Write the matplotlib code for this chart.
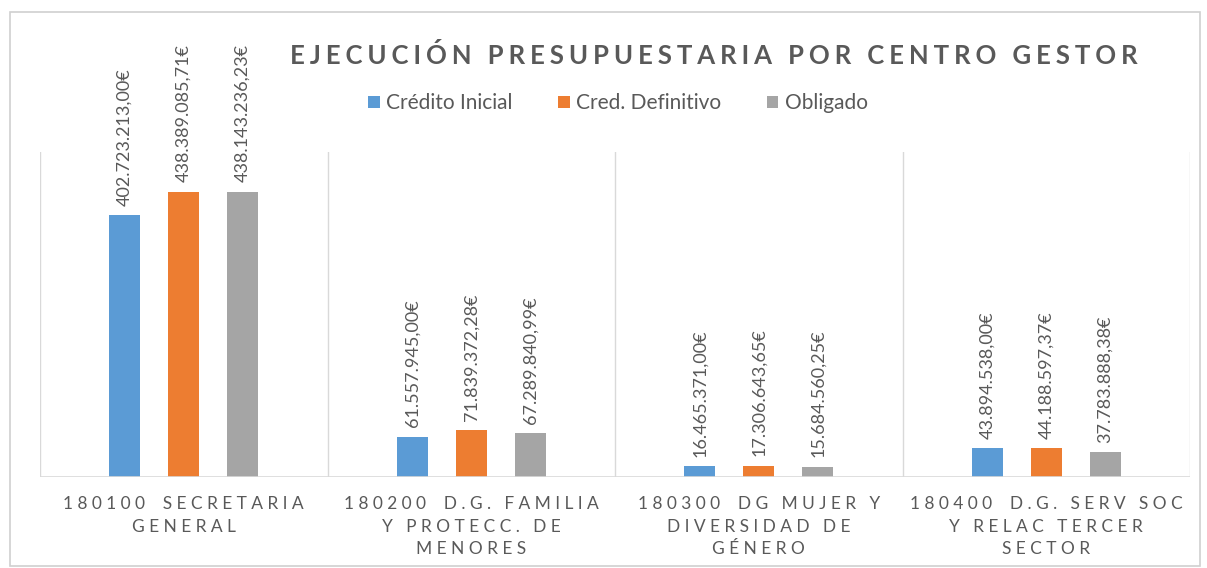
import matplotlib.pyplot as plt
import numpy as np
from matplotlib.patches import Rectangle

plt.rcParams['font.family'] = ['Lato', 'DejaVu Sans']

categories = ['180100  SECRETARIA\nGENERAL',
              '180200  D.G. FAMILIA\nY PROTECC. DE\nMENORES',
              '180300  DG MUJER Y\nDIVERSIDAD DE\nGÉNERO',
              '180400  D.G. SERV SOC\nY RELAC TERCER\nSECTOR']
series = ['Crédito Inicial', 'Cred. Definitivo', 'Obligado']
credito_inicial = [402723213.00, 61557945.00, 16465371.00, 43894538.00]
cred_definitivo = [438389085.71, 71839372.28, 17306643.65, 44188597.37]
obligado = [438143236.23, 67289840.99, 15684560.25, 37783888.38]
colors = ['#5B9BD5', '#ED7D31', '#A5A5A5']
text_col = '#595959'


def spaced(s, sep='\u2009'):
    # fake letter spacing, line by line (no extra gap between two blanks)
    out = []
    for line in s.split('\n'):
        t = ''
        for i, ch in enumerate(line):
            t += ch
            if i < len(line) - 1 and not (ch == ' ' and line[i + 1] == ' '):
                t += sep
        out.append(t)
    return '\n'.join(out)


def euro(v):
    s = f'{v:,.2f}'
    s = s.replace(',', 'X').replace('.', ',').replace('X', '.')
    return s + '€'


fig = plt.figure(figsize=(12.07, 5.68), dpi=100)
fig.patches.append(Rectangle((10/1207, 2/568), 1190/1207, 554/568,
                             transform=fig.transFigure, fill=False,
                             edgecolor='#D0D0D0', lw=1.2))
ax = fig.add_axes([40/1207, (568-477)/568, 1150/1207, 325/568])

x = np.arange(len(categories))
offsets = [-0.205, 0, 0.205]
width = 0.108
for vals, off, col, name in zip([credito_inicial, cred_definitivo, obligado],
                                offsets, colors, series):
    bars = ax.bar(x + off, vals, width, color=col, label=name, zorder=3)
    for b, v in zip(bars, vals):
        ax.annotate(euro(v), (b.get_x() + b.get_width()/2, b.get_height()),
                    xytext=(0, 7), textcoords='offset points',
                    rotation=90, ha='center', va='bottom',
                    fontsize=13, color=text_col)

ax.set_xlim(-0.5, 3.5)
ax.set_ylim(0, 500e6)
for b in np.arange(-0.5, 4.0, 1.0):
    ax.axvline(b, color='#D9D9D9', lw=1, zorder=1)
for s in ax.spines.values():
    s.set_visible(False)
ax.axhline(0, color='#D9D9D9', lw=1.2, zorder=4)
ax.set_yticks([])
ax.set_xticks(x)
ax.set_xticklabels([spaced(c, '\u2009\u200a\u200a') for c in categories],
                   fontsize=12.5, color=text_col, linespacing=1.5)
ax.tick_params(axis='x', length=0, pad=14)

fig.text(0.591, 0.903,
         spaced('EJECUCIÓN PRESUPUESTARIA POR CENTRO GESTOR', '\u2009\u200a'),
         ha='center', va='center', fontsize=18.5, fontweight='bold',
         color=text_col)
fig.legend(loc='center', bbox_to_anchor=(0.512, 0.818), ncol=3,
           frameon=False, fontsize=15, labelcolor=text_col,
           handlelength=0.55, handleheight=0.55, handletextpad=0.3,
           columnspacing=2.2)

fig.savefig('out.png', dpi=100, facecolor='white')
